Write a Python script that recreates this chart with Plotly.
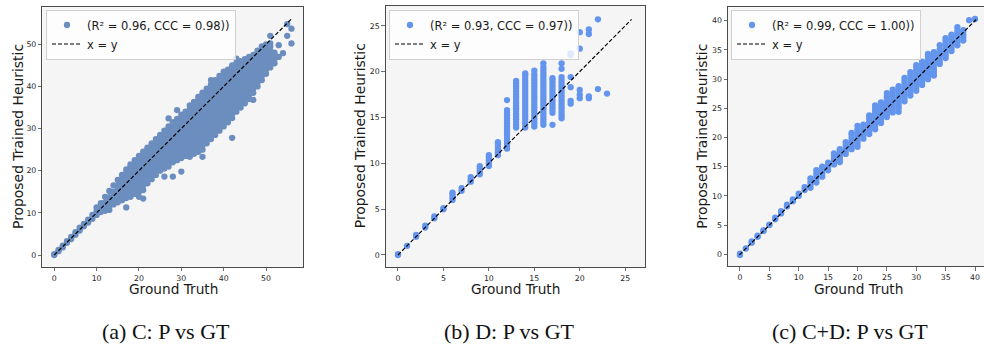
import plotly.graph_objects as go

W, H = 984, 346

# ---------------- data ----------------
# (a) C: ground truth (integer) and predicted values for each ground-truth value
c_gt = list(range(0, 57))
c_pred = [
    [0.0, 0.2],
    [0.9, 1.2],
    [1.8, 2.2],
    [2.9, 3.3],
    [3.8, 4.3],
    [4.8, 5.4],
    [5.8, 6.5],
    [6.8, 7.4],
    [7.7, 8.4],
    [8.6, 9.5],
    [9.5, 10.4, 11.3],
    [10.2, 11.2, 12.3],
    [10.5, 11.5, 12.5, 13.8],
    [10.7, 11.7, 12.7, 13.7, 15.2],
    [12.0, 13.0, 14.0, 15.0, 16.5],
    [12.5, 13.5, 14.5, 15.5, 16.5, 17.8],
    [13.0, 14.0, 15.0, 16.0, 17.0, 18.0, 19.0],
    [11.3, 13.5, 14.5, 15.5, 16.5, 17.5, 18.5, 19.5, 20.3],
    [13.8, 15.0, 16.0, 17.0, 18.0, 19.0, 20.0, 21.0, 21.5],
    [14.5, 15.5, 16.5, 17.5, 18.5, 19.5, 20.5, 21.5, 22.5],
    [13.8, 15.0, 16.0, 17.0, 18.0, 19.0, 20.0, 21.0, 22.0, 23.0, 23.5],
    [13.4, 15.4, 16.5, 17.5, 18.5, 19.5, 20.5, 21.5, 22.5, 23.5, 24.5],
    [17.0, 18.0, 19.0, 20.0, 21.0, 22.0, 23.0, 24.0, 25.0, 25.5],
    [18.0, 19.0, 20.0, 21.0, 22.0, 23.0, 24.0, 25.0, 26.0, 26.5],
    [19.0, 20.0, 21.0, 22.0, 23.0, 24.0, 25.0, 26.0, 27.0, 27.5],
    [20.0, 21.0, 22.0, 23.0, 24.0, 25.0, 26.0, 27.0, 28.0, 28.5],
    [18.6, 20.5, 21.5, 22.5, 23.5, 24.5, 25.5, 26.5, 27.5, 28.5, 29.5],
    [21.0, 22.0, 23.0, 24.0, 25.0, 26.0, 27.0, 28.0, 29.0, 30.0, 30.5, 32.4],
    [18.6, 22.0, 23.0, 24.0, 25.0, 26.0, 27.0, 28.0, 29.0, 30.0, 31.0, 31.5],
    [22.5, 23.5, 24.5, 25.5, 26.5, 27.5, 28.5, 29.5, 30.5, 31.5, 32.3, 34.4],
    [19.8, 23.0, 24.0, 25.0, 26.0, 27.0, 28.0, 29.0, 30.0, 31.0, 32.0, 33.3],
    [23.5, 24.5, 25.5, 26.5, 27.5, 28.5, 29.5, 30.5, 31.5, 32.5, 33.5, 34.0],
    [23.3, 24.5, 25.5, 26.5, 27.5, 28.5, 29.5, 30.5, 31.5, 32.5, 33.5, 34.5, 35.5],
    [24.0, 25.0, 26.0, 27.0, 28.0, 29.0, 30.0, 31.0, 32.0, 33.0, 34.0, 35.0, 36.3],
    [24.5, 25.5, 26.5, 27.5, 28.5, 29.5, 30.5, 31.5, 32.5, 33.5, 34.5, 35.5, 36.5, 37.5],
    [23.3, 25.0, 26.0, 27.0, 28.0, 29.0, 30.0, 31.0, 32.0, 33.0, 34.0, 35.0, 36.0, 37.0, 38.0, 38.5],
    [26.5, 27.5, 28.5, 29.5, 30.5, 31.5, 32.5, 33.5, 34.5, 35.5, 36.5, 37.5, 38.5, 39.5],
    [27.5, 28.5, 29.5, 30.5, 31.5, 32.5, 33.5, 34.5, 35.5, 36.5, 37.5, 38.5, 39.5, 40.5, 41.5],
    [28.5, 29.5, 30.5, 31.5, 32.5, 33.5, 34.5, 35.5, 36.5, 37.5, 38.5, 39.5, 40.5, 41.5],
    [29.5, 30.5, 31.5, 32.5, 33.5, 34.5, 35.5, 36.5, 37.5, 38.5, 39.5, 40.5, 41.5, 42.5],
    [30.5, 31.5, 32.5, 33.5, 34.5, 35.5, 36.5, 37.5, 38.5, 39.5, 40.5, 41.5, 42.5, 43.5],
    [31.5, 32.5, 33.5, 34.5, 35.5, 36.5, 37.5, 38.5, 39.5, 40.5, 41.5, 42.5, 43.5, 44.0],
    [27.8, 32.5, 33.5, 34.5, 35.5, 36.5, 37.5, 38.5, 39.5, 40.5, 41.5, 42.5, 43.5, 44.5, 45.0],
    [34.0, 35.0, 36.0, 37.0, 38.0, 39.0, 40.0, 41.0, 42.0, 43.0, 44.0, 45.0, 45.5, 46.6],
    [35.0, 36.0, 37.0, 38.0, 39.0, 40.0, 41.0, 42.0, 43.0, 44.0, 45.0, 46.0],
    [36.0, 37.0, 38.0, 39.0, 40.0, 41.0, 42.0, 43.0, 44.0, 45.0, 46.0, 46.5],
    [37.0, 38.0, 39.0, 40.0, 41.0, 42.0, 43.0, 44.0, 45.0, 46.0, 47.0],
    [36.8, 38.5, 39.5, 40.5, 41.5, 42.5, 43.5, 44.5, 45.5, 46.5, 47.5],
    [40.0, 41.0, 42.0, 43.0, 44.0, 45.0, 46.0, 47.0, 48.0, 48.5],
    [41.5, 42.5, 43.5, 44.5, 45.5, 46.5, 47.5, 48.5, 49.5],
    [43.0, 44.0, 45.0, 46.0, 47.0, 48.0, 49.0, 50.0],
    [44.5, 45.5, 46.5, 47.5, 48.5, 49.5, 50.2, 52.0],
    [45.5, 46.5, 47.5, 48.0],
    [47.0, 49.8],
    [47.9],
    [52.0, 54.8],
    [50.2, 53.7],
]

# (b) D
d_gt = list(range(0, 24))
d_pred = [
    [0.0, 0.1],
    [1.0],
    [2.0, 2.2],
    [3.0, 3.2],
    [4.0, 4.2],
    [5.0, 5.1],
    [6.0, 6.3, 6.6, 6.8],
    [7.0, 7.3],
    [8.0, 8.2, 8.5],
    [8.8, 9.1, 9.4, 9.7],
    [9.7, 10.0, 10.3, 10.6, 10.9],
    [10.9, 11.2, 11.5, 11.8, 12.1, 12.3],
    [11.6, 11.9, 12.2, 12.5, 12.8, 13.1, 13.4, 13.7, 14.0, 14.3, 14.6, 14.9, 15.2, 15.5, 15.8, 16.9],
    [13.9, 14.2, 14.5, 14.8, 15.1, 15.4, 15.7, 16.0, 16.3, 16.6, 16.9, 17.2, 17.5, 17.8, 18.1, 18.4, 18.7, 19.0],
    [13.9, 14.2, 14.5, 14.8, 15.1, 15.4, 15.7, 16.0, 16.3, 16.6, 16.9, 17.2, 17.5, 17.8, 18.1, 18.4, 18.7, 19.0, 19.3, 19.6, 19.8],
    [14.0, 14.3, 14.6, 14.9, 15.2, 15.5, 15.8, 16.1, 16.4, 16.7, 17.0, 17.3, 17.6, 17.9, 18.2, 18.5, 18.8, 19.1, 19.4, 19.7, 20.1],
    [14.2, 14.5, 14.8, 15.1, 15.4, 15.7, 16.0, 16.3, 16.6, 16.9, 17.2, 17.5, 17.8, 18.1, 18.4, 18.7, 19.0, 19.3, 19.6, 19.9, 20.2, 20.5, 20.9],
    [14.2, 15.5, 15.8, 16.1, 16.4, 16.7, 17.0, 17.3, 17.6, 17.9, 18.2, 18.5, 18.8, 19.1, 19.3],
    [14.9, 15.2, 15.5, 15.8, 16.1, 16.4, 16.7, 17.0, 17.3, 17.6, 17.9, 18.2, 18.5, 18.8, 19.1, 19.4, 20.3, 20.9],
    [16.5, 16.8, 18.3, 19.4, 21.8, 22.0],
    [17.1, 17.5, 18.0, 22.5, 24.3],
    [17.1, 17.3, 24.1, 24.6],
    [18.1, 25.7],
    [17.6],
]

# (c) C+D
e_gt = list(range(0, 41))
e_pred = [
    [-0.1, 0.1],
    [1.0],
    [2.0, 2.2],
    [3.0, 3.2],
    [4.0, 4.1],
    [5.0, 5.1],
    [6.0, 6.3],
    [7.0, 7.4],
    [8.2, 8.5],
    [9.1, 9.4],
    [10.0, 10.4],
    [11.0, 11.5],
    [11.4, 11.9, 12.4, 13.0],
    [12.3, 12.8, 13.3, 13.8, 14.4],
    [13.3, 13.8, 14.3, 14.8, 15.0],
    [14.4, 14.9, 15.4, 15.7],
    [15.4, 15.9, 16.4, 16.9, 17.3],
    [15.8, 16.3, 16.8, 17.3, 17.8, 18.0],
    [17.2, 17.7, 18.2, 18.7, 19.2],
    [18.0, 18.5, 19.0, 19.5, 20.0, 20.5, 20.8],
    [18.4, 18.9, 19.4, 19.9, 20.4, 20.9, 21.4, 22.0],
    [19.8, 20.3, 20.8, 21.3, 21.8, 22.2],
    [20.6, 21.1, 21.6, 22.1, 22.6, 23.1, 23.6, 23.8],
    [21.4, 21.9, 22.4, 22.9, 23.4, 23.9, 24.4, 24.9, 25.5],
    [22.5, 23.0, 23.5, 24.0, 24.5, 25.0, 25.5, 26.0],
    [23.5, 24.0, 24.5, 25.0, 25.5, 26.0, 26.5, 27.0, 27.6],
    [24.3, 24.8, 25.3, 25.8, 26.3, 26.8, 27.3, 27.8, 28.2],
    [24.4, 25.0, 25.5, 26.0, 26.5, 27.0, 27.5, 28.0, 28.5, 28.8],
    [26.2, 26.7, 27.2, 27.7, 28.2, 28.7, 29.2, 29.7, 30.2],
    [27.2, 27.7, 28.2, 28.7, 29.2, 29.7, 30.2, 30.7, 31.2],
    [28.0, 28.5, 29.0, 29.5, 30.0, 30.5, 31.0, 31.5, 32.0, 32.4],
    [29.0, 29.5, 30.0, 30.5, 31.0, 31.5, 32.0, 32.5, 33.0],
    [30.0, 30.5, 31.0, 31.5, 32.0, 32.5, 33.0, 33.5, 34.0, 34.3],
    [30.6, 31.1, 31.6, 32.1, 32.6, 33.1, 33.6, 34.1, 34.6],
    [32.6, 33.1, 33.6, 34.1, 34.6, 35.1, 35.8],
    [33.6, 34.1, 34.6, 35.1, 35.6, 36.1, 36.6, 37.0],
    [34.8, 35.3, 35.8, 36.3, 36.8, 37.3, 37.6],
    [35.8, 36.3, 36.8, 37.3, 37.8, 38.3, 38.9],
    [36.6, 37.1, 37.6, 38.1, 38.4],
    [40.1],
    [40.3],
]

labels = ["(R² = 0.96, CCC = 0.98))", "(R² = 0.93, CCC = 0.97))", "(R² = 0.99, CCC = 1.00))"]
captions = ["(a) C: P vs GT", "(b) D: P vs GT", "(c) C+D: P vs GT"]
ticks_a = [0, 10, 20, 30, 40, 50]
ticks_b = [0, 5, 10, 15, 20, 25]
ticks_c = [0, 5, 10, 15, 20, 25, 30, 35, 40]


def flatten(gt, pred):
    xs, ys = [], []
    for g, vals in zip(gt, pred):
        for v in vals:
            xs.append(g)
            ys.append(v)
    return xs, ys


# ---------------- layout geometry (pixels) ----------------
panels = [
    dict(data=(c_gt, c_pred), color="#6C8EBF", ticks=ticks_a, xpx=(42.4, 303.3), ypx=(7.2, 266.8),
         xr=[-2.8, 58.8], yr=[-2.8, 58.8], mirror_y=True,
         leg=(46, 9.5), ytitle_x=18, xtitle_c=173, cap_x=100),
    dict(data=(d_gt, d_pred), color="#6495ED", ticks=ticks_b, xpx=(385.7, 645.2), ypx=(5.6, 266.9),
         xr=[-1.35, 27.2], yr=[-1.3, 27.2], mirror_y=True,
         leg=(389, 9.5), ytitle_x=360, xtitle_c=515.5, cap_x=442),
    dict(data=(e_gt, e_pred), color="#6495ED", ticks=ticks_c, xpx=(728.1, 984), ypx=(7.3, 266.0),
         xr=[-2.02, 41.53], yr=[-2.0, 42.3], mirror_y=False,
         leg=(731, 9.5), ytitle_x=702, xtitle_c=858, cap_x=770),
]

fig = go.Figure()
annotations = []
layout_axes = {}
FONT = "DejaVu Sans"

for i, p in enumerate(panels):
    n = i + 1
    sfx = "" if n == 1 else str(n)
    legname = "legend" if n == 1 else f"legend{n}"
    xs, ys = flatten(*p["data"])
    lo = min(min(xs), min(ys))
    hi = max(max(xs), max(ys))
    fig.add_trace(go.Scatter(
        x=xs, y=ys, mode="markers", name=labels[i],
        marker=dict(color=p["color"], size=6.3, line=dict(width=0)),
        xaxis="x" + sfx, yaxis="y" + sfx, legend=legname, showlegend=True))
    fig.add_trace(go.Scatter(
        x=[lo, hi], y=[lo, hi], mode="lines", name="x = y",
        line=dict(color="black", width=1.2, dash="4px,2px"),
        xaxis="x" + sfx, yaxis="y" + sfx, legend=legname, showlegend=True))

    axcommon = dict(showgrid=False, zeroline=False, showline=True, linecolor="#4a4a4a", linewidth=1,
                    ticks="outside", ticklen=3.5, tickwidth=0.8, tickcolor="#4a4a4a",
                    tickfont=dict(family=FONT, size=7.8, color="#262626"),
                    tickvals=p["ticks"], ticktext=[str(t) for t in p["ticks"]])
    layout_axes["xaxis" + sfx] = dict(axcommon, domain=[p["xpx"][0] / W, p["xpx"][1] / W],
                                      range=p["xr"], anchor="y" + sfx, mirror=True)
    layout_axes["yaxis" + sfx] = dict(axcommon, domain=[1 - p["ypx"][1] / H, 1 - p["ypx"][0] / H],
                                      range=p["yr"], anchor="x" + sfx, mirror=p["mirror_y"])
    layout_axes[legname] = dict(
        x=p["leg"][0] / W, y=1 - p["leg"][1] / H, xanchor="left", yanchor="top",
        bgcolor="rgba(255,255,255,0.8)", bordercolor="#d0d0d0", borderwidth=1,
        font=dict(family=FONT, size=11.5, color="#1a1a1a"), tracegroupgap=0,
        itemwidth=30)

    # axis titles
    annotations.append(dict(text="Ground Truth", x=p["xtitle_c"] / W, y=1 - 289 / H,
                            xref="paper", yref="paper", showarrow=False, xanchor="center", yanchor="middle",
                            font=dict(family=FONT, size=13.7, color="#1a1a1a")))
    ymid = (p["ypx"][0] + p["ypx"][1]) / 2
    annotations.append(dict(text="Proposed Trained Heuristic", x=p["ytitle_x"] / W, y=1 - ymid / H,
                            xref="paper", yref="paper", showarrow=False, xanchor="center", yanchor="middle",
                            textangle=-90, font=dict(family=FONT, size=13.9, color="#1a1a1a")))
    # caption
    annotations.append(dict(text=captions[i], x=p["cap_x"] / W, y=1 - 331 / H,
                            xref="paper", yref="paper", showarrow=False, xanchor="left", yanchor="middle",
                            font=dict(family="Liberation Serif", size=22, color="#111111")))

fig.update_layout(
    width=W, height=H, margin=dict(l=0, r=0, t=0, b=0),
    paper_bgcolor="white", plot_bgcolor="#f5f5f5", hovermode=False,
    annotations=annotations, **layout_axes)

fig.write_html("out.html",
               config={"displayModeBar": False, "staticPlot": True},
               post_script="document.body.style.margin='0px';document.body.style.padding='0px';"
                           "document.body.style.overflow='hidden';")
